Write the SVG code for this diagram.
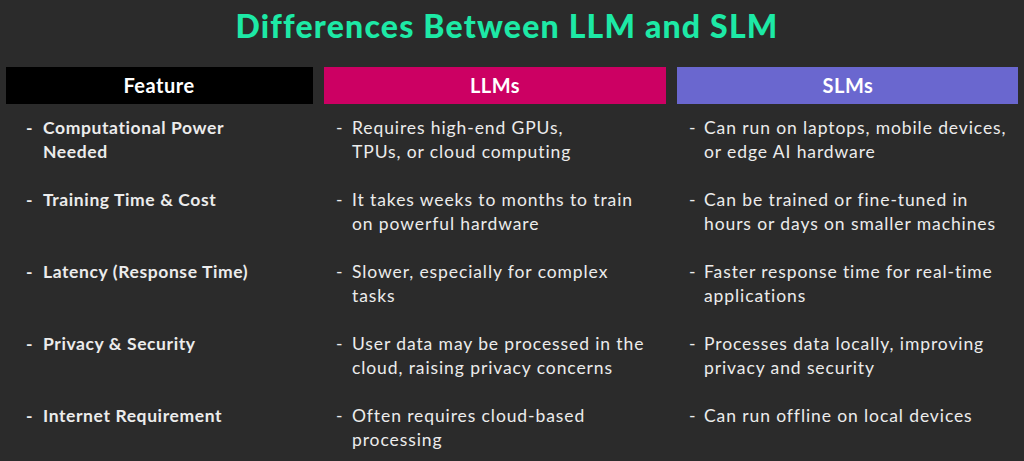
<svg xmlns="http://www.w3.org/2000/svg" width="1024" height="461" viewBox="0 0 1024 461">
<style>
.t{font-family:"Lato","Liberation Sans",sans-serif;font-size:17.5px;fill:#ececec;letter-spacing:0.9px}
.b{font-weight:bold;letter-spacing:0.6px}
.h{font-family:"Lato","Liberation Sans",sans-serif;font-size:20px;font-weight:bold;fill:#fff;text-anchor:middle;letter-spacing:0.5px}
</style>
<rect width="1024" height="461" fill="#2b2b2b"/>
<text x="507" y="38" text-anchor="middle" font-family="Lato,'Liberation Sans',sans-serif" font-size="32" font-weight="900" letter-spacing="1.2" fill="#1de9a6">Differences Between LLM and SLM</text>
<g id="h-feature"><rect x="6" y="67" width="307" height="37" fill="#000"/><text class="h" x="159" y="93">Feature</text></g>
<g id="h-llm"><rect x="324" y="67" width="342" height="37" fill="#cc0063"/><text class="h" x="495" y="93">LLMs</text></g>
<g id="h-slm"><rect x="677" y="67" width="341" height="37" fill="#6a67cf"/><text class="h" x="848" y="93">SLMs</text></g>
<g id="col-feature">
<text class="t b" x="26" y="134">-</text><text class="t b" x="43" y="134">Computational Power</text><text class="t b" x="43" y="158">Needed</text>
<text class="t b" x="26" y="206">-</text><text class="t b" x="43" y="206">Training Time &amp; Cost</text>
<text class="t b" x="26" y="278">-</text><text class="t b" x="43" y="278">Latency (Response Time)</text>
<text class="t b" x="26" y="350">-</text><text class="t b" x="43" y="350">Privacy &amp; Security</text>
<text class="t b" x="26" y="422">-</text><text class="t b" x="43" y="422">Internet Requirement</text>
</g>
<g id="col-llm">
<text class="t" x="336" y="134">-</text><text class="t" x="352" y="134">Requires high-end GPUs,</text><text class="t" x="352" y="158">TPUs, or cloud computing</text>
<text class="t" x="336" y="206">-</text><text class="t" x="352" y="206">It takes weeks to months to train</text><text class="t" x="352" y="230">on powerful hardware</text>
<text class="t" x="336" y="278">-</text><text class="t" x="352" y="278">Slower, especially for complex</text><text class="t" x="352" y="302">tasks</text>
<text class="t" x="336" y="350">-</text><text class="t" x="352" y="350">User data may be processed in the</text><text class="t" x="352" y="374">cloud, raising privacy concerns</text>
<text class="t" x="336" y="422">-</text><text class="t" x="352" y="422">Often requires cloud-based</text><text class="t" x="352" y="446">processing</text>
</g>
<g id="col-slm">
<text class="t" x="689" y="134">-</text><text class="t" x="704" y="134">Can run on laptops, mobile devices,</text><text class="t" x="704" y="158">or edge AI hardware</text>
<text class="t" x="689" y="206">-</text><text class="t" x="704" y="206">Can be trained or fine-tuned in</text><text class="t" x="704" y="230">hours or days on smaller machines</text>
<text class="t" x="689" y="278">-</text><text class="t" x="704" y="278">Faster response time for real-time</text><text class="t" x="704" y="302">applications</text>
<text class="t" x="689" y="350">-</text><text class="t" x="704" y="350">Processes data locally, improving</text><text class="t" x="704" y="374">privacy and security</text>
<text class="t" x="689" y="422">-</text><text class="t" x="704" y="422">Can run offline on local devices</text>
</g>
<g id="connectors"/>
</svg>
